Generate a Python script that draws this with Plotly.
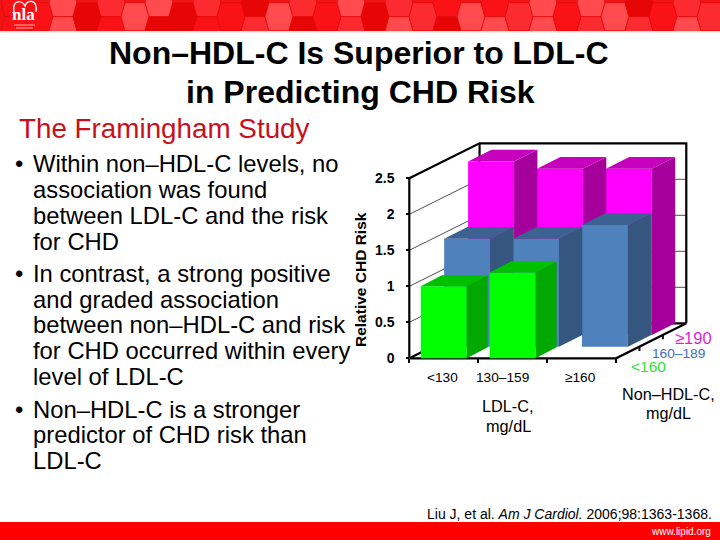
import plotly.graph_objects as go

# ---------- data ----------
LDL_LABELS = ["<130", "130–159", "≥160"]
NON_HDL_LABELS = ["<160", "160–189", "≥190"]
GREEN_VALUES = [1.0, 1.19, None]
BLUE_VALUES = [1.5, 1.5, 1.69]
MAGENTA_VALUES = [2.41, 2.31, 2.31]
Y_TICKS = [0, 0.5, 1, 1.5, 2, 2.5]
Y_TICK_TEXT = ["0", "0.5", "1", "1.5", "2", "2.5"]

TITLE_LINES = ["Non–HDL-C Is Superior to LDL-C", "in Predicting CHD Risk"]
SUBTITLE = "The Framingham Study"
BODY_LINES = [
    "Within non–HDL-C levels, no", "association was found", "between LDL-C and the risk", "for CHD",
    "In contrast, a strong positive", "and graded association", "between non–HDL-C and risk",
    "for CHD occurred within every", "level of LDL-C",
    "Non–HDL-C is a stronger", "predictor of CHD risk than", "LDL-C",
]
BODY_BASELINES = [171.7, 197.7, 223.5, 249.5, 281.7, 307.7, 333.3, 359.3, 385, 417.7, 443.3, 469.3]
BULLET_LINES = [0, 4, 9]

# header hexagon shades: (column centre x, lattice, upper shade, lower shade)
L, M, R, D = "#ff4a4e", "#fb2b30", "#fa1216", "#e60606"
HEX_COLUMNS = [
    (15, "t", R, R), (39, "m", R, None), (63, "t", L, L), (87, "m", D, None), (111, "t", M, R),
    (135, "m", L, None), (159, "t", L, D), (183, "m", D, None), (207, "t", M, R), (231, "m", R, None),
    (255, "t", D, M), (279, "m", L, None), (303, "t", M, D), (327, "m", R, None), (351, "t", L, M),
    (375, "m", D, None), (399, "t", M, L), (423, "m", M, None), (447, "t", R, D), (471, "m", L, None),
    (495, "t", R, L), (519, "m", M, None), (543, "t", L, L), (567, "m", R, None), (591, "t", L, M),
    (615, "m", L, None), (639, "t", D, M), (663, "m", R, None), (687, "t", M, L), (711, "m", M, None),
]

# ---------- geometry of the pseudo-3D scale ----------
W, H = 720, 540
X0_PX, Y0_PX = 409.3, 358.3
CAT_PX, UNIT_PX = 68.9, 72.0
x_range = [-X0_PX / CAT_PX, (W - X0_PX) / CAT_PX]
y_range = [(Y0_PX - H) / UNIT_PX, Y0_PX / UNIT_PX]
BACK_DX, BACK_DY = 1.02, 0.486      # floor depth in data units
BAR_W = 0.667
SERIES = [  # painted back to front
    ("x2", "y2", MAGENTA_VALUES, 0.687, 0.324, 0.339, 0.162, "#ff00ff", "#a5009c", "#c600bc"),
    ("x3", "y3", BLUE_VALUES, 0.339, 0.162, 0.339, 0.162, "#4f81bd", "#35577f", "#3c6292"),
    ("x4", "y4", GREEN_VALUES, 0.0, 0.0, 0.305, 0.153, "#00ff00", "#00a800", "#00c000"),
]


def xp(px):
    return px / W


def yp(py):
    return 1 - py / H


fig = go.Figure()

# ---------- walls and floor ----------
grid_x, grid_y = [], []
for v in Y_TICKS[1:-1]:
    grid_x += [0, BACK_DX, BACK_DX + 3, None]
    grid_y += [v, v + BACK_DY, v + BACK_DY, None]
fig.add_trace(go.Scatter(x=grid_x, y=grid_y, mode="lines", line=dict(color="#222222", width=0.8),
                         hoverinfo="skip"))
frame_x = [0, 3, 3 + BACK_DX, BACK_DX, 0, None, 0, 0, BACK_DX, BACK_DX + 3, BACK_DX + 3, None, BACK_DX, BACK_DX]
frame_y = [0, 0, BACK_DY, BACK_DY, 0, None, 0, 2.5, 2.5 + BACK_DY, 2.5 + BACK_DY, BACK_DY, None, BACK_DY, 2.5 + BACK_DY]
fig.add_trace(go.Scatter(x=frame_x, y=frame_y, mode="lines", line=dict(color="black", width=2.2),
                         hoverinfo="skip"))
tick_x, tick_y = [], []
for k in (0, 1, 2):
    fx = 3 + BACK_DX * k / 3
    fy = BACK_DY * k / 3
    tick_x += [fx, fx, None]
    tick_y += [fy, fy - 0.06, None]
fig.add_trace(go.Scatter(x=tick_x, y=tick_y, mode="lines", line=dict(color="black", width=2), hoverinfo="skip"))

# ---------- bars ----------
for xa, ya, vals, ox, oy, dx, dy, c_front, c_side, c_top in SERIES:
    cats = [i + 0.5 + ox for i, v in enumerate(vals) if v is not None]
    heights = [v for v in vals if v is not None]
    fig.add_trace(go.Bar(x=cats, y=heights, base=[oy] * len(heights), width=BAR_W, xaxis=xa, yaxis=ya,
                         marker=dict(color=c_front, line=dict(width=0)), hoverinfo="skip"))
    sx, sy, tx, ty = [], [], [], []
    for c, h in zip(cats, heights):
        r = c + BAR_W / 2
        l = c - BAR_W / 2
        top = oy + h
        sx += [r, r + dx, r + dx, r, r, None]
        sy += [oy, oy + dy, top + dy, top, oy, None]
        tx += [l, r, r + dx, l + dx, l, None]
        ty += [top, top, top + dy, top + dy, top, None]
    for px_, py_, col in ((sx, sy, c_side), (tx, ty, c_top)):
        fig.add_trace(go.Scatter(x=px_, y=py_, xaxis=xa, yaxis=ya, mode="lines", fill="toself",
                                 fillcolor=col, line=dict(width=0, color=col), hoverinfo="skip"))

# ---------- decoration: header and footer ----------
shapes = [dict(type="rect", xref="paper", yref="paper", x0=0, x1=1, y0=yp(31), y1=1,
               fillcolor="#f01414", line_width=0, layer="below")]


def hex_path(cx, cy):
    pts = [(cx - 14, cy), (cx - 10, cy - 14), (cx + 10, cy - 14), (cx + 14, cy), (cx + 10, cy + 14), (cx - 10, cy + 14)]
    return "M " + " L ".join(f"{xp(a):.5f},{yp(b):.5f}" for a, b in pts) + " Z"


for cx, row, c1, c2 in HEX_COLUMNS:
    centres = [(2.7, c1), (30.7, c2)] if row == "t" else [(16.7, c1)]
    for cy, col in centres:
        shapes.append(dict(type="path", xref="paper", yref="paper", path=hex_path(cx, cy), fillcolor=col,
                           line=dict(color="#e30a0a", width=0.8), layer="below"))
shapes.append(dict(type="rect", xref="paper", yref="paper", x0=0, x1=1, y0=yp(60), y1=yp(31),
                   fillcolor="white", line_width=0, layer="below"))
shapes.append(dict(type="rect", xref="paper", yref="paper", x0=0, x1=1, y0=yp(32.5), y1=yp(31),
                   fillcolor="#e4dcdc", line_width=0, layer="below"))
shapes.append(dict(type="rect", xref="paper", yref="paper", x0=0, x1=1, y0=0, y1=yp(522),
                   fillcolor="#ff0000", line_width=0, layer="below"))
# logo arcs and small lines
arc = (f"M {xp(14)},{yp(12)} C {xp(12)},{yp(-1)} {xp(22)},{yp(0)} {xp(25)},{yp(6)} "
       f"C {xp(27)},{yp(-1)} {xp(38)},{yp(-1)} {xp(36)},{yp(12)}")
shapes.append(dict(type="path", xref="paper", yref="paper", path=arc, line=dict(color="white", width=1.3)))
for py, a, b in ((25, 14, 35), (28, 16, 33)):
    shapes.append(dict(type="line", xref="paper", yref="paper", x0=xp(a), x1=xp(b), y0=yp(py), y1=yp(py),
                       line=dict(color="rgba(255,255,255,0.65)", width=1)))

# ---------- text ----------
ann = []


def text(s, x, base, size, color="black", anchor="left", bold=False, family="Liberation Sans"):
    ann.append(dict(text=f"<b>{s}</b>" if bold else s, xref="paper", yref="paper", x=xp(x),
                    y=yp(base - 0.35 * size), xanchor=anchor, yanchor="middle", showarrow=False, borderpad=0,
                    font=dict(family=family, size=size, color=color)))


text(TITLE_LINES[0], 359, 64.3, 32, anchor="center", bold=True)
text(TITLE_LINES[1], 360, 103.3, 32, anchor="center", bold=True)
text(SUBTITLE, 17.5, 138.3, 27.8, color="#c8101c")
for i, (line, base) in enumerate(zip(BODY_LINES, BODY_BASELINES)):
    text(line, 32, base, 23.8)
    if i in BULLET_LINES:
        text("•", 14, base, 23.8)
text("Liu J, et al. <i>Am J Cardiol.</i> 2006;98:1363-1368.", 713, 519, 14, anchor="right")
text("www.lipid.org", 712, 534.5, 10, color="white", anchor="right")
text("nla", 23, 20.5, 17, color="white", anchor="center", bold=True, family="Liberation Serif")
for lab, cx in zip(LDL_LABELS, (442.7, 502, 580)):
    text(lab, cx, 382.5, 13.7, anchor="center")
text("LDL-C,", 508, 412, 16.3, anchor="center")
text("mg/dL", 508, 432, 16.3, anchor="center")
text("Non–HDL-C,", 668, 400, 16.2, anchor="center")
text("mg/dL", 668, 419, 16.2, anchor="center")
text(NON_HDL_LABELS[2], 693, 343.5, 16.5, color="#e01fd0", anchor="center")
text(NON_HDL_LABELS[1], 678, 358.5, 13.7, color="#3f6fc4", anchor="center")
text(NON_HDL_LABELS[0], 648, 372, 15.5, color="#2fe03a", anchor="center")
ann.append(dict(text="<b>Relative CHD Risk</b>", xref="paper", yref="paper", x=xp(360.5), y=yp(279.5), textangle=-90,
                xanchor="center", yanchor="middle", showarrow=False, borderpad=0,
                font=dict(family="Liberation Sans", size=15.5, color="black")))

overlay = dict(range=x_range, visible=False, overlaying="x")
overlay_y = dict(range=y_range, visible=False, overlaying="y")
fig.update_layout(
    width=W, height=H, autosize=False, margin=dict(l=0, r=0, t=0, b=0), paper_bgcolor="white",
    plot_bgcolor="rgba(0,0,0,0)", showlegend=False, barmode="overlay", shapes=shapes, annotations=ann,
    xaxis=dict(range=x_range, domain=[0, 1], anchor="free", position=yp(Y0_PX), showline=False, showgrid=False,
               zeroline=False, tickvals=[0, 1, 2, 3], ticks="outside", ticklen=4, tickwidth=2, tickcolor="black",
               showticklabels=False),
    yaxis=dict(range=y_range, domain=[0, 1], anchor="free", position=xp(X0_PX), showline=False, showgrid=False,
               zeroline=False, tickvals=Y_TICKS, ticktext=Y_TICK_TEXT, ticks="outside", ticklen=3, tickwidth=2,
               tickcolor="black", ticklabelstandoff=9,
               tickfont=dict(family="Liberation Sans", size=14, color="black", weight="bold")),
    xaxis2=overlay, xaxis3=overlay, xaxis4=overlay,
    yaxis2=overlay_y, yaxis3=overlay_y, yaxis4=overlay_y,
)

fig.write_html("out.html", config=dict(displayModeBar=False),
               post_script="document.body.style.margin='0';document.body.style.overflow='hidden';")
